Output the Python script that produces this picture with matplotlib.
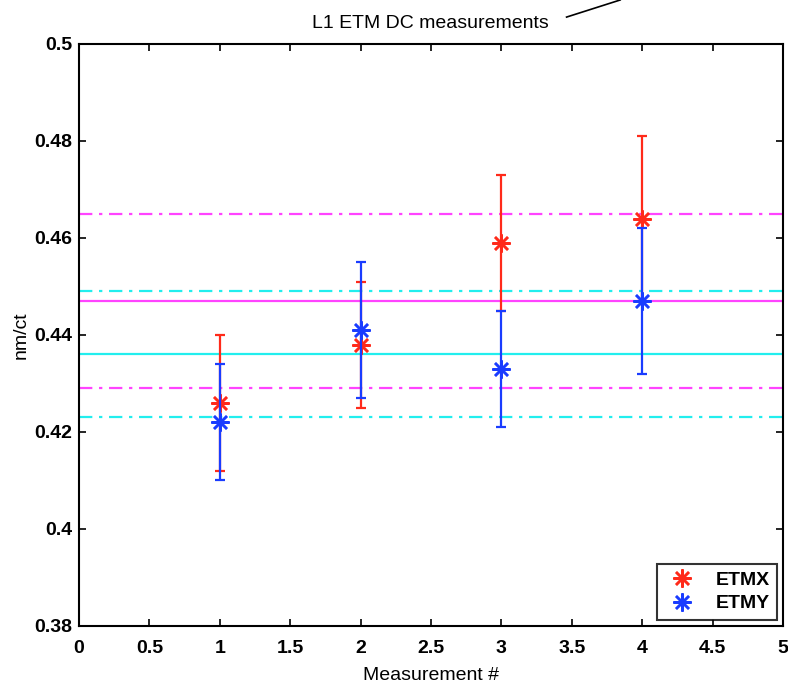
import matplotlib
matplotlib.use("Agg")
import matplotlib.pyplot as plt
from matplotlib.lines import Line2D

plt.rcParams['font.family'] = ['Liberation Sans', 'DejaVu Sans']

meas = [1, 2, 3, 4]
etmx = [0.426, 0.438, 0.459, 0.464]
etmx_err = [0.014, 0.013, 0.014, 0.017]
etmy = [0.422, 0.441, 0.433, 0.447]
etmy_err = [0.012, 0.014, 0.012, 0.015]

# means and +/- bands
etmx_mean, etmx_band = 0.447, (0.429, 0.465)
etmy_mean, etmy_band = 0.436, (0.423, 0.449)

red = '#ff2a1a'
blue = '#1a3cff'
magenta = '#ff44ff'
cyan = '#22eeee'

fig = plt.figure(figsize=(7.88, 6.83), dpi=100)
ax = fig.add_axes([0.1003, 0.0835, 0.8934, 0.8521])

ax.axhline(etmx_mean, color=magenta, lw=1.6)
ax.axhline(etmy_mean, color=cyan, lw=1.6)
for v in etmx_band:
    ax.axhline(v, color=magenta, lw=1.6, ls=(0, (6, 3, 1.5, 3)))
for v in etmy_band:
    ax.axhline(v, color=cyan, lw=1.6, ls=(0, (6, 3, 1.5, 3)))

ast = (8, 2, 0)
ax.errorbar(meas, etmx, yerr=etmx_err, fmt='none', ecolor=red, elinewidth=1.6, capsize=3.5, capthick=1.6)
ax.plot(meas, etmx, ls='none', marker=ast, ms=13, mew=1.8, color=red, label='ETMX')
ax.errorbar(meas, etmy, yerr=etmy_err, fmt='none', ecolor=blue, elinewidth=1.6, capsize=3.5, capthick=1.6)
ax.plot(meas, etmy, ls='none', marker=ast, ms=13, mew=1.8, color=blue, label='ETMY')

ax.set_xlim(0, 5)
ax.set_ylim(0.38, 0.5)
ax.set_xticks([0, 0.5, 1, 1.5, 2, 2.5, 3, 3.5, 4, 4.5, 5])
ax.set_xticklabels(['0', '0.5', '1', '1.5', '2', '2.5', '3', '3.5', '4', '4.5', '5'])
ax.set_yticks([0.38, 0.4, 0.42, 0.44, 0.46, 0.48, 0.5])
ax.set_yticklabels(['0.38', '0.4', '0.42', '0.44', '0.46', '0.48', '0.5'])
ax.tick_params(direction='in', top=True, right=True, length=5, width=1.2, labelsize=14)
ax.tick_params(axis='x', pad=10)
ax.tick_params(axis='y', pad=5)
for lab in ax.get_xticklabels() + ax.get_yticklabels():
    lab.set_fontweight('bold')
for s in ax.spines.values():
    s.set_linewidth(1.5)

ax.set_xlabel('Measurement #', fontsize=14, labelpad=7)
ax.set_ylabel('nm/ct', fontsize=14, labelpad=3)
fig.text(0.546, 0.966, 'L1 ETM DC measurements', ha='center', va='center', fontsize=14)
fig.add_artist(Line2D([0.719, 0.787], [0.975, 1.0], transform=fig.transFigure, color='black', lw=1.2))

leg = ax.legend(loc='lower right', fontsize=14, frameon=True, fancybox=False,
                edgecolor='black', borderaxespad=0.3, handletextpad=0.8,
                handlelength=1.8, borderpad=0.4, labelspacing=0.3)
leg.get_frame().set_linewidth(1.5)
for t in leg.get_texts():
    t.set_fontweight('bold')

fig.savefig('out.png', dpi=100)
